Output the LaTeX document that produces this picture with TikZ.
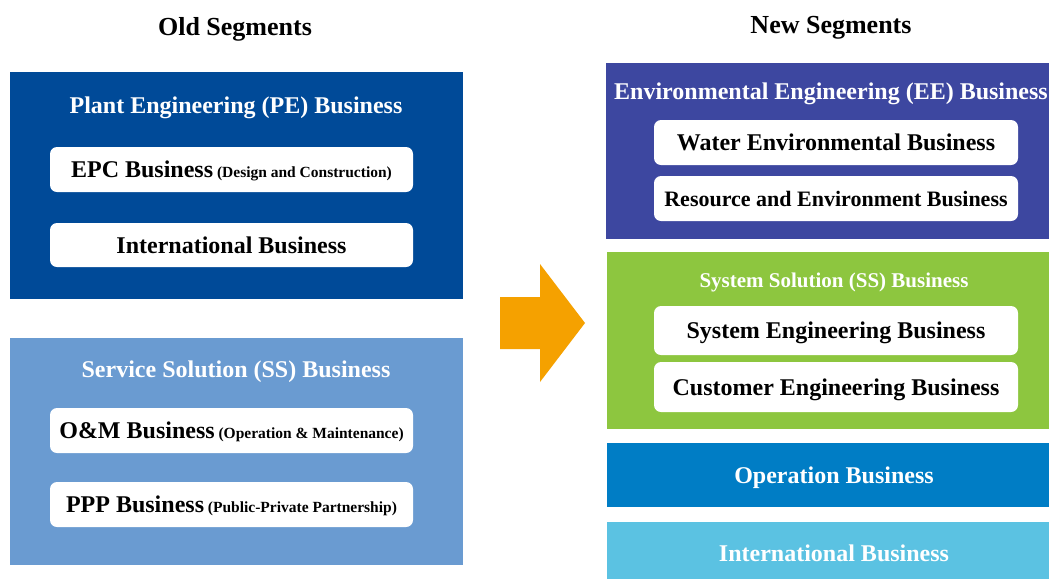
\documentclass[tikz,border=0pt]{standalone}
\usepackage{fontspec}
\setmainfont{Liberation Serif}
\newcommand*{\segfont}{\bfseries\fontsize{24}{28}\selectfont}
\newcommand*{\notefont}{\bfseries\fontsize{15.5}{18}\selectfont}
\newcommand*{\headfont}{\bfseries\fontsize{26}{30}\selectfont}
\definecolor{peblue}{RGB}{0,74,152}
\definecolor{ssblue}{RGB}{106,155,209}
\definecolor{eeblue}{RGB}{61,71,160}
\definecolor{ssgreen}{RGB}{141,198,63}
\definecolor{opblue}{RGB}{0,125,197}
\definecolor{incyan}{RGB}{91,194,226}
\definecolor{shiftorange}{RGB}{245,161,0}
\usepackage{tikz}
\tikzstyle{base}=[x=1pt, y=-1pt, inner sep=0pt, outer sep=0pt]
\tikzstyle{panel}=[rectangle, inner sep=0pt, outer sep=0pt]
\tikzstyle{unit}=[rectangle, fill=white, rounded corners=7pt, minimum width=363, minimum height=45, text=black, font=\segfont, text height=18pt, text depth=2pt]
\tikzstyle{title}=[text=white, font=\segfont, text height=18pt, text depth=2pt]

\begin{document}
\begin{tikzpicture}[base]
    \path [use as bounding box, fill=white] (0,0) rectangle (1049,579);
    % old segments
    \node [title, text=black, font=\headfont] (old) at (235,27) {Old Segments};
    \node [panel, fill=peblue, minimum width=453, minimum height=227] (pe) at (236.5,185.5) {};
    \node [title] (petitle) at (236,105) {Plant Engineering (PE) Business};
    \node [unit] (epc) at (231.5,169.5) {EPC Business\notefont{} (Design and Construction)};
    \node [unit, minimum height=44] (peint) at (231.5,245) {International Business};
    \node [panel, fill=ssblue, minimum width=453, minimum height=227] (ssold) at (236.5,451.5) {};
    \node [title] (ssoldtitle) at (236,369) {Service Solution (SS) Business};
    \node [unit] (om) at (231.5,430.5) {O\&M Business\notefont{} (Operation \& Maintenance)};
    \node [unit] (ppp) at (231.5,504.5) {PPP Business\notefont{} (Public-Private Partnership)};
    % arrow
    \fill [shiftorange] (500,297) -- (540,297) -- (540,264) -- (585,323)
        -- (540,382) -- (540,349) -- (500,349) -- cycle;
    % new segments
    \node [title, text=black, font=\headfont] (new) at (831,25) {New Segments};
    \node [panel, fill=eeblue, minimum width=443, minimum height=176] (ee) at (827.5,151) {};
    \node [title] (eetitle) at (831,91) {Environmental Engineering (EE) Business};
    \node [unit, minimum width=364] (water) at (836,142.5) {Water Environmental Business};
    \node [unit, minimum width=364, font=\bfseries\fontsize{22}{26}\selectfont] (resource) at (836,198.5) {Resource and Environment Business};
    \node [panel, fill=ssgreen, minimum width=442, minimum height=177] (ssnew) at (828,340.5) {};
    \node [title, font=\bfseries\fontsize{21}{25}\selectfont] (ssnewtitle) at (834,279) {System Solution (SS) Business};
    \node [unit, minimum width=364, minimum height=49] (syseng) at (836,330.5) {System Engineering Business};
    \node [unit, minimum width=364, minimum height=50] (custeng) at (836,387) {Customer Engineering Business};
    \node [panel, fill=opblue, minimum width=442, minimum height=64] (op) at (828,475) {};
    \node [title] (optitle) at (834,475) {Operation Business};
    \node [panel, fill=incyan, minimum width=442, minimum height=57] (newint) at (828,550.5) {};
    \node [title] (newinttitle) at (834,553) {International Business};
\end{tikzpicture}
\end{document}
